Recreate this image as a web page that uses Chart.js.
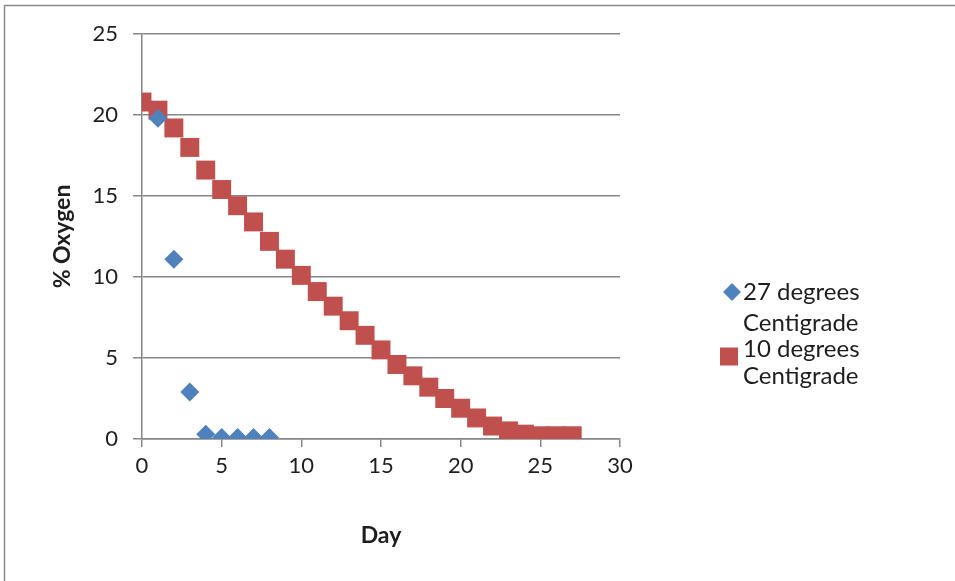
<!DOCTYPE html>
<html>
<head>
<meta charset="utf-8">
<script src="https://cdn.jsdelivr.net/npm/chart.js@4/dist/chart.umd.min.js"></script>
<style>
  html, body { margin: 0; padding: 0; background: #fff; }
  #wrap { position: relative; width: 955px; height: 581px; }
</style>
</head>
<body>
<div id="wrap"><canvas id="c" width="955" height="581"></canvas></div>
<script>
// Oxygen remaining in sealed containers, by day, at two temperatures
const days27 = [1, 2, 3, 4, 5, 6, 7, 8];
const oxygen27 = [19.8, 11.1, 2.9, 0.3, 0.1, 0.1, 0.1, 0.1];

const days10 = [0, 1, 2, 3, 4, 5, 6, 7, 8, 9, 10, 11, 12, 13, 14, 15, 16, 17, 18, 19, 20, 21, 22, 23, 24, 25, 26, 27];
const oxygen10 = [20.8, 20.3, 19.2, 18.0, 16.6, 15.4, 14.4, 13.4, 12.2, 11.1, 10.1, 9.1, 8.2, 7.3, 6.4,
                  5.5, 4.6, 3.9, 3.2, 2.5, 1.9, 1.3, 0.8, 0.5, 0.3, 0.2, 0.2, 0.2];

const seriesNames = [["27 degrees", "Centigrade"], ["10 degrees", "Centigrade"]];
const xTitle = "Day";
const yTitle = "% Oxygen";

const BLUE = "#4F81BD";
const RED = "#C0504D";
const GRID = "#868686";
const TEXT = "#1E1E1E";
const FONT = "Lato, 'Open Sans', sans-serif";

const toPoints = (xs, ys) => xs.map((x, i) => ({ x: x, y: ys[i] }));

// Frame line along the top and left edges, plus white background
const framePlugin = {
  id: 'frame',
  beforeDraw(chart) {
    const ctx = chart.ctx;
    ctx.save();
    ctx.fillStyle = '#fff';
    ctx.fillRect(0, 0, chart.width, chart.height);
    ctx.strokeStyle = '#8A8A8A';
    ctx.lineWidth = 1.5;
    ctx.beginPath();
    ctx.moveTo(4.5, chart.height);
    ctx.lineTo(4.5, 5.5);
    ctx.lineTo(chart.width, 5.5);
    ctx.stroke();
    ctx.restore();
  }
};

// Legend on the right; each series name wraps onto two lines
const sideLegend = {
  id: 'sideLegend',
  afterDraw(chart) {
    const ctx = chart.ctx;
    const textX = 743;
    const markers = [{ x: 732, y: 292 }, { x: 729, y: 356.5 }];
    const baselines = [[300, 331], [357, 384]];
    ctx.save();
    ctx.font = `24px ${FONT}`;
    ctx.textBaseline = 'alphabetic';
    chart.data.datasets.forEach((ds, i) => {
      const m = markers[i];
      ctx.fillStyle = ds.backgroundColor;
      ctx.beginPath();
      if (ds.pointStyle === 'rectRot') {
        ctx.moveTo(m.x, m.y - 9); ctx.lineTo(m.x + 9, m.y); ctx.lineTo(m.x, m.y + 9); ctx.lineTo(m.x - 9, m.y);
      } else {
        ctx.rect(m.x - 9, m.y - 9, 18, 18);
      }
      ctx.closePath();
      ctx.fill();
      ctx.fillStyle = TEXT;
      ds.label.forEach((line, k) => ctx.fillText(line, textX, baselines[i][k]));
    });
    ctx.restore();
  }
};

new Chart(document.getElementById('c'), {
  type: 'scatter',
  data: {
    datasets: [
      {
        label: seriesNames[0],
        data: toPoints(days27, oxygen27),
        pointStyle: 'rectRot',
        pointRadius: 9.5,
        pointHoverRadius: 9.5,
        backgroundColor: BLUE,
        borderColor: BLUE,
        borderWidth: 0
      },
      {
        label: seriesNames[1],
        data: toPoints(days10, oxygen10),
        pointStyle: 'rect',
        pointRadius: 13.4,
        pointHoverRadius: 13.4,
        backgroundColor: RED,
        borderColor: RED,
        borderWidth: 0
      }
    ]
  },
  options: {
    responsive: false,
    animation: false,
    events: [],
    layout: { padding: { left: 0, right: 335, top: 34, bottom: 0 } },
    plugins: {
      legend: { display: false },
      tooltip: { enabled: false }
    },
    scales: {
      x: {
        type: 'linear',
        min: 0, max: 30,
        ticks: { stepSize: 5, color: TEXT, font: { family: FONT, size: 22 }, padding: 6 },
        grid: { drawOnChartArea: false, drawTicks: true, tickLength: 8, color: GRID, lineWidth: 1.5 },
        border: { display: true, color: GRID, width: 1.5 },
        title: { display: true, text: xTitle, color: TEXT, font: { family: FONT, size: 23, weight: 'bold' }, padding: { bottom: 32 } },
        afterFit(scale) { scale.height = 142; }
      },
      y: {
        type: 'linear',
        min: 0, max: 25,
        ticks: { stepSize: 5, color: TEXT, font: { family: FONT, size: 22 }, padding: 15 },
        grid: { drawTicks: true, tickLength: 9, color: GRID, lineWidth: 1.5 },
        border: { display: true, color: GRID, width: 1.5 },
        title: { display: true, text: yTitle, color: TEXT, font: { family: FONT, size: 23, weight: 'bold' }, padding: { top: 49 } },
        afterFit(scale) { scale.width = 142; }
      }
    }
  },
  plugins: [framePlugin, sideLegend]
});
</script>
</body>
</html>
